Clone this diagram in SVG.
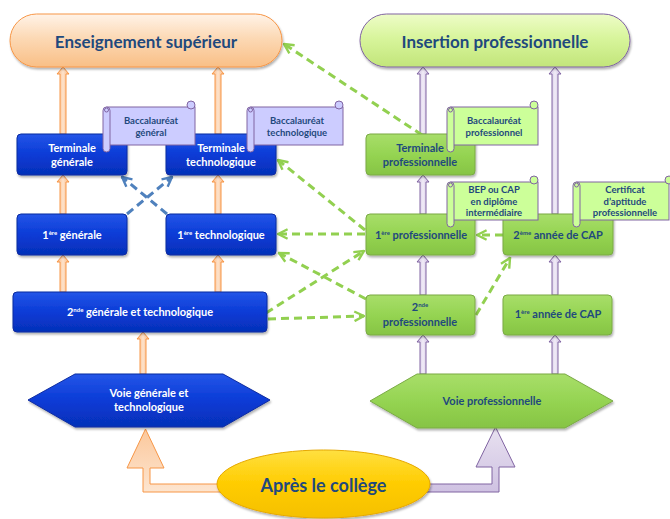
<svg xmlns="http://www.w3.org/2000/svg" width="670" height="519" viewBox="0 0 670 519">
<defs>
  <linearGradient id="gBlue" x1="0" y1="0" x2="0" y2="1">
    <stop offset="0" stop-color="#2456e8"/><stop offset="0.5" stop-color="#0a3bd6"/><stop offset="1" stop-color="#0530b8"/>
  </linearGradient>
  <linearGradient id="gGreen" x1="0" y1="0" x2="0" y2="1">
    <stop offset="0" stop-color="#a8de6a"/><stop offset="0.5" stop-color="#95d452"/><stop offset="1" stop-color="#86c444"/>
  </linearGradient>
  <linearGradient id="gSup" x1="0" y1="0" x2="0" y2="1">
    <stop offset="0" stop-color="#fff3e8"/><stop offset="0.45" stop-color="#fcd9b5"/><stop offset="1" stop-color="#f9bf86"/>
  </linearGradient>
  <linearGradient id="gIns" x1="0" y1="0" x2="0" y2="1">
    <stop offset="0" stop-color="#eefcc8"/><stop offset="0.45" stop-color="#d8f59c"/><stop offset="1" stop-color="#c2e57a"/>
  </linearGradient>
  <linearGradient id="gOr" x1="0" y1="0" x2="1" y2="0">
    <stop offset="0" stop-color="#f9b27a"/><stop offset="0.5" stop-color="#fde3cc"/><stop offset="1" stop-color="#f9b27a"/>
  </linearGradient>
  <linearGradient id="gPu" x1="0" y1="0" x2="1" y2="0">
    <stop offset="0" stop-color="#c9b8de"/><stop offset="0.5" stop-color="#f1ecf7"/><stop offset="1" stop-color="#c9b8de"/>
  </linearGradient>
  <linearGradient id="gOrBig" x1="0" y1="0" x2="0" y2="1">
    <stop offset="0" stop-color="#fbc89c"/><stop offset="1" stop-color="#fde5d0"/>
  </linearGradient>
  <linearGradient id="gPuBig" x1="0" y1="0" x2="0" y2="1">
    <stop offset="0" stop-color="#e8e1f0"/><stop offset="1" stop-color="#cfc2e2"/>
  </linearGradient>
  <linearGradient id="gGold" x1="0" y1="0" x2="0" y2="1">
    <stop offset="0" stop-color="#ffe040"/><stop offset="0.5" stop-color="#ffcc00"/><stop offset="1" stop-color="#f5c000"/>
  </linearGradient>
  <filter id="sh" x="-10%" y="-10%" width="120%" height="140%">
    <feDropShadow dx="1" dy="2" stdDeviation="1.2" flood-color="#000" flood-opacity="0.3"/>
  </filter>
  <marker id="mG" viewBox="0 0 10 10" refX="9" refY="5" markerWidth="12" markerHeight="12" markerUnits="userSpaceOnUse" orient="auto">
    <path d="M1,1 L9,5 L1,9" fill="none" stroke="#92d050" stroke-width="2"/>
  </marker>
  <marker id="mB" viewBox="0 0 10 10" refX="9" refY="5" markerWidth="12" markerHeight="12" markerUnits="userSpaceOnUse" orient="auto">
    <path d="M1,1 L9,5 L1,9" fill="none" stroke="#4f81bd" stroke-width="2"/>
  </marker>
</defs>
<style>
  text { font-family: Lato, "Open Sans", "Liberation Sans", sans-serif; font-weight: bold; text-anchor: middle; }
  .bbox { fill: url(#gBlue); stroke: #0a2aa0; stroke-width: 1; filter: url(#sh); }
  .gbox { fill: url(#gGreen); stroke: #7aaa45; stroke-width: 1; filter: url(#sh); }
  .wt { fill: #ffffff; font-size: 11px; }
  .dt { fill: #1f497d; font-size: 11px; }
  .st { fill: #1f497d; font-size: 9.5px; }
  .scrB { fill: #ccccff; stroke: #8064a2; stroke-width: 1; }
  .scrG { fill: #ccff99; stroke: #8064a2; stroke-width: 1; }
  .oa { fill: url(#gOr); stroke: #f79646; stroke-width: 1; }
  .pa { fill: url(#gPu); stroke: #8064a2; stroke-width: 1; }
  .gd { fill: none; stroke: #92d050; stroke-width: 3; stroke-dasharray: 8 5; marker-end: url(#mG); }
  .bd { fill: none; stroke: #4f81bd; stroke-width: 3; stroke-dasharray: 8 5; marker-end: url(#mB); }
  .big { font-size: 17px; }
</style>

<g id="connectors">
  <path class="oa" d="M60,134 V74 H57 L63,67 L69,74 H66 V134 Z"/>
  <path class="oa" d="M215,134 V74 H212 L218,67 L224,74 H221 V134 Z"/>
  <path class="oa" d="M60,214 V182 H57 L63,175 L69,182 H66 V214 Z"/>
  <path class="oa" d="M215,214 V182 H212 L218,175 L224,182 H221 V214 Z"/>
  <path class="oa" d="M60,292 V262 H57 L63,255 L69,262 H66 V292 Z"/>
  <path class="oa" d="M215,292 V262 H212 L218,255 L224,262 H221 V292 Z"/>
  <path class="oa" d="M140,374 V339 H137 L143,332 L149,339 H146 V374 Z"/>
  <path class="pa" d="M420,134 V74 H417 L423,67 L429,74 H426 V134 Z"/>
  <path class="pa" d="M552,214 V74 H549 L555,67 L561,74 H558 V214 Z"/>
  <path class="pa" d="M420,214 V182 H417 L423,175 L429,182 H426 V214 Z"/>
  <path class="pa" d="M420,295 V262 H417 L423,255 L429,262 H426 V295 Z"/>
  <path class="pa" d="M552,295 V262 H549 L555,255 L561,262 H558 V295 Z"/>
  <path class="pa" d="M420,374 V342 H417 L423,335 L429,342 H426 V374 Z"/>
  <path class="pa" d="M552,374 V342 H549 L555,335 L561,342 H558 V374 Z"/>
  <path d="M230,484 H150 V468 H164 L145.5,429 L127,468 H143 V492 H230 Z" fill="url(#gOrBig)" stroke="#f79646" stroke-width="1"/>
  <path d="M415,484 H492 V467 H476 L495.5,427 L515,467 H499 V492 H415 Z" fill="url(#gPuBig)" stroke="#8064a2" stroke-width="1"/>
  <line class="gd" x1="422" y1="135" x2="284" y2="44"/>
  <line class="gd" x1="365" y1="230" x2="278" y2="160"/>
  <line class="gd" x1="365" y1="234" x2="278" y2="234"/>
  <line class="gd" x1="366" y1="299" x2="279" y2="253"/>
  <line class="gd" x1="266" y1="313" x2="364" y2="251"/>
  <line class="gd" x1="268" y1="319" x2="364" y2="316"/>
  <line class="gd" x1="476" y1="315" x2="510" y2="258"/>
  <line class="gd" x1="503" y1="235" x2="477" y2="235"/>
  <line class="bd" x1="127" y1="214" x2="172" y2="177"/>
  <line class="bd" x1="167" y1="214" x2="122" y2="177"/>
</g>

<g id="ens-sup">
  <rect x="10" y="14" width="272" height="53" rx="26.5" fill="url(#gSup)" stroke="#f79646" stroke-width="1" filter="url(#sh)"/>
  <text class="big" x="146" y="48" fill="#1f497d">Enseignement supérieur</text>
</g>
<g id="insertion">
  <rect x="360" y="14" width="270" height="53" rx="26.5" fill="url(#gIns)" stroke="#8064a2" stroke-width="1" filter="url(#sh)"/>
  <text class="big" x="495" y="48" fill="#1f497d">Insertion professionnelle</text>
</g>

<g id="term-gen">
  <rect class="bbox" x="17" y="134" width="110" height="41" rx="4"/>
  <text class="wt" x="72" y="152">Terminale</text>
  <text class="wt" x="72" y="166">générale</text>
</g>
<g id="term-tech">
  <rect class="bbox" x="166" y="134" width="110" height="41" rx="4"/>
  <text class="wt" x="221" y="152">Terminale</text>
  <text class="wt" x="221" y="166">technologique</text>
</g>
<g id="prem-gen">
  <rect class="bbox" x="17" y="214" width="110" height="41" rx="4"/>
  <text class="wt" x="72" y="239">1<tspan font-size="6" dy="-4">ère</tspan><tspan dy="4"> générale</tspan></text>
</g>
<g id="prem-tech">
  <rect class="bbox" x="166" y="214" width="110" height="41" rx="4"/>
  <text class="wt" x="221" y="239">1<tspan font-size="6" dy="-4">ère</tspan><tspan dy="4"> technologique</tspan></text>
</g>
<g id="seconde-gt">
  <rect class="bbox" x="13" y="292" width="254" height="40" rx="4"/>
  <text class="wt" x="140" y="316">2<tspan font-size="6" dy="-4">nde</tspan><tspan dy="4"> générale et technologique</tspan></text>
</g>
<g id="voie-gt">
  <path d="M75,374 H223 L270,400 L223,427 H75 L28,400 Z" fill="url(#gBlue)" stroke="#0a2aa0" stroke-width="1" filter="url(#sh)"/>
  <text class="wt" x="149" y="397">Voie générale et</text>
  <text class="wt" x="149" y="411">technologique</text>
</g>

<g id="term-pro">
  <rect class="gbox" x="366" y="134" width="109" height="41" rx="4"/>
  <text class="dt" x="420" y="152">Terminale</text>
  <text class="dt" x="420" y="166">professionnelle</text>
</g>
<g id="prem-pro">
  <rect class="gbox" x="366" y="214" width="109" height="41" rx="4"/>
  <text class="dt" x="421" y="239">1<tspan font-size="6" dy="-4">ère</tspan><tspan dy="4"> professionnelle</tspan></text>
</g>
<g id="deux-cap">
  <rect class="gbox" x="503" y="214" width="110" height="41" rx="4"/>
  <text class="dt" x="558" y="239">2<tspan font-size="6" dy="-4">ème</tspan><tspan dy="4"> année de CAP</tspan></text>
</g>
<g id="seconde-pro">
  <rect class="gbox" x="366" y="295" width="109" height="40" rx="4"/>
  <text class="dt" x="420" y="311">2<tspan font-size="6" dy="-4">nde</tspan></text>
  <text class="dt" x="420" y="326">professionnelle</text>
</g>
<g id="un-cap">
  <rect class="gbox" x="503" y="295" width="109" height="40" rx="4"/>
  <text class="dt" x="558" y="318">1<tspan font-size="6" dy="-4">ère</tspan><tspan dy="4"> année de CAP</tspan></text>
</g>
<g id="voie-pro">
  <path d="M417,374 H565 L613,401 L565,428 H417 L370,401 Z" fill="url(#gGreen)" stroke="#7aaa45" stroke-width="1" filter="url(#sh)"/>
  <text class="dt" x="492" y="405">Voie professionnelle</text>
</g>

<g id="bac-gen">
  <rect class="scrB" x="107" y="107" width="88" height="38"/>
  <circle class="scrB" cx="191" cy="105" r="4"/>
  <rect class="scrB" x="103" y="107" width="7" height="45" rx="3.5"/>
  <circle class="scrB" cx="106.5" cy="110" r="2"/>
  <text class="st" x="151" y="124">Baccalauréat</text>
  <text class="st" x="151" y="136">général</text>
</g>
<g id="bac-tech">
  <rect class="scrB" x="251" y="107" width="92" height="38"/>
  <circle class="scrB" cx="339" cy="105" r="4"/>
  <rect class="scrB" x="247" y="107" width="7" height="45" rx="3.5"/>
  <circle class="scrB" cx="250.5" cy="110" r="2"/>
  <text class="st" x="297" y="124">Baccalauréat</text>
  <text class="st" x="297" y="136">technologique</text>
</g>
<g id="bac-pro">
  <rect class="scrG" x="451" y="107" width="87" height="38"/>
  <circle class="scrG" cx="534" cy="105" r="4"/>
  <rect class="scrG" x="447" y="107" width="7" height="45" rx="3.5"/>
  <circle class="scrG" cx="450.5" cy="110" r="2"/>
  <text class="st" x="494" y="124">Baccalauréat</text>
  <text class="st" x="494" y="136">professionnel</text>
</g>
<g id="bep-cap">
  <rect class="scrG" x="451" y="182" width="87" height="38"/>
  <circle class="scrG" cx="534" cy="180" r="4"/>
  <rect class="scrG" x="447" y="182" width="7" height="45" rx="3.5"/>
  <circle class="scrG" cx="450.5" cy="185" r="2"/>
  <text class="st" x="494" y="193">BEP ou CAP</text>
  <text class="st" x="494" y="205">en diplôme</text>
  <text class="st" x="494" y="216">intermédiaire</text>
</g>
<g id="cap-cert">
  <rect class="scrG" x="577" y="182" width="92" height="38"/>
  <circle class="scrG" cx="669" cy="180" r="4"/>
  <rect class="scrG" x="573" y="182" width="7" height="45" rx="3.5"/>
  <circle class="scrG" cx="576.5" cy="185" r="2"/>
  <text class="st" x="625" y="193">Certificat</text>
  <text class="st" x="625" y="205">d’aptitude</text>
  <text class="st" x="625" y="216">professionnelle</text>
</g>

<g id="apres-college">
  <ellipse cx="323.5" cy="484" rx="106.5" ry="34" fill="url(#gGold)" stroke="#e6a800" stroke-width="1" filter="url(#sh)"/>
  <text x="323.5" y="492" font-size="18" fill="#1f497d">Après le collège</text>
</g>
</svg>
